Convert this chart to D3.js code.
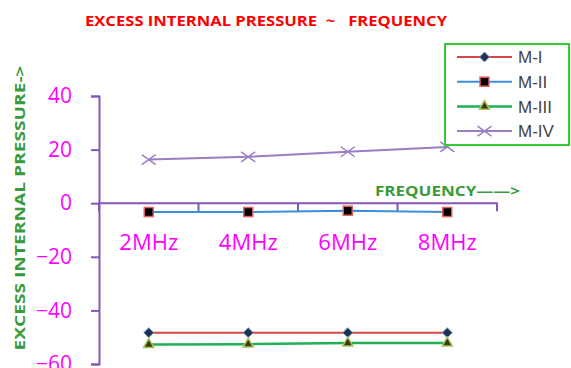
<!DOCTYPE html>
<html>
<head>
<meta charset="utf-8">
<script src="https://cdn.jsdelivr.net/npm/d3@7"></script>
<style>
  html, body { margin: 0; padding: 0; background: #fff; }
  svg { display: block; }
</style>
</head>
<body>
<svg id="chart" width="571" height="368"></svg>
<script>
// Frequencies along the x axis
const categories = ["2MHz", "4MHz", "6MHz", "8MHz"];
// Excess internal pressure for each mixture
const seriesNames = ["M-I", "M-II", "M-III", "M-IV"];
const valuesMI   = [-48.3, -48.3, -48.3, -48.3];
const valuesMII  = [-3.3, -3.3, -2.8, -3.3];
const valuesMIII = [-52.7, -52.6, -52.2, -52.2];
const valuesMIV  = [16.3, 17.3, 19.2, 21.0];
const yTicks = [40, 20, 0, -20, -40, -60];

const svg = d3.select("#chart");

const x = d3.scaleBand().domain(categories).range([99, 497]);
const y = d3.scaleLinear().domain([-60, 40]).range([364, 96]);

const axisColor = "#8855b8";
const tickColor = "#ff00ff";

// Title
svg.append("text")
  .attr("x", 266).attr("y", 26)
  .attr("text-anchor", "middle")
  .attr("font-family", "Open Sans, sans-serif")
  .attr("font-weight", "bold")
  .attr("font-size", 15)
  .attr("fill", "#ff0000")
  .attr("textLength", 362).attr("lengthAdjust", "spacingAndGlyphs")
  .attr("xml:space", "preserve")
  .text("EXCESS INTERNAL PRESSURE  ~   FREQUENCY");

// Y axis
const yAxis = d3.axisLeft(y).tickValues(yTicks).tickSize(8).tickPadding(19);
const gy = svg.append("g").attr("transform", "translate(99,0)").call(yAxis);
gy.select(".domain").attr("stroke", axisColor).attr("stroke-width", 2);
gy.selectAll(".tick line").attr("stroke", axisColor).attr("stroke-width", 2);
gy.selectAll(".tick text")
  .attr("fill", tickColor)
  .attr("font-family", "Open Sans, sans-serif")
  .attr("font-size", 21);

// X axis at zero
const xAxis = d3.axisBottom(x).tickSize(0).tickPadding(30);
const gx = svg.append("g").attr("transform", `translate(0,${y(0)})`).call(xAxis);
gx.select(".domain").attr("stroke", axisColor).attr("stroke-width", 2)
  .attr("d", `M${x.range()[0]},8V0H${x.range()[1]}V8`);
gx.selectAll(".tick text")
  .attr("fill", tickColor)
  .attr("font-family", "Open Sans, sans-serif")
  .attr("font-size", 22)
  .attr("dy", "0.35em")
  .attr("y", 39);
// category boundary ticks
gx.selectAll(".bound")
  .data(categories.slice(1))
  .enter().append("line")
  .attr("x1", d => x(d)).attr("x2", d => x(d))
  .attr("y1", 0).attr("y2", 8)
  .attr("stroke", axisColor).attr("stroke-width", 2);

// Axis titles
svg.append("text")
  .attr("transform", "translate(25,208) rotate(-90)")
  .attr("text-anchor", "middle")
  .attr("font-family", "Open Sans, sans-serif")
  .attr("font-weight", "bold")
  .attr("font-size", 15)
  .attr("fill", "#3a9a3a")
  .attr("textLength", 285).attr("lengthAdjust", "spacingAndGlyphs")
  .text("EXCESS INTERNAL PRESSURE->");

svg.append("text")
  .attr("x", 375).attr("y", 196)
  .attr("font-family", "Open Sans, sans-serif")
  .attr("font-weight", "bold")
  .attr("font-size", 15)
  .attr("fill", "#3a9a3a")
  .attr("textLength", 145).attr("lengthAdjust", "spacingAndGlyphs")
  .text("FREQUENCY——>");

// Series
const cx = d => x(d) + x.bandwidth() / 2;
const series = [
  { name: seriesNames[0], values: valuesMI,   line: "#d94545", width: 2,   marker: "diamond" },
  { name: seriesNames[1], values: valuesMII,  line: "#3a8fd8", width: 2,   marker: "square" },
  { name: seriesNames[2], values: valuesMIII, line: "#1fb154", width: 2.5, marker: "triangle" },
  { name: seriesNames[3], values: valuesMIV,  line: "#9a7ec4", width: 2,   marker: "x" }
];

function drawMarker(g, type, px, py) {
  if (type === "diamond") {
    g.append("path")
      .attr("d", `M${px},${py - 5}L${px + 5},${py}L${px},${py + 5}L${px - 5},${py}Z`)
      .attr("fill", "#1f3150").attr("stroke", "#7f9fc8").attr("stroke-width", 1);
  } else if (type === "square") {
    g.append("rect")
      .attr("x", px - 4.5).attr("y", py - 4.5).attr("width", 9).attr("height", 9)
      .attr("fill", "#000").attr("stroke", "#e06060").attr("stroke-width", 1.5);
  } else if (type === "triangle") {
    g.append("path")
      .attr("d", d3.symbol(d3.symbolTriangle, 45)())
      .attr("transform", `translate(${px},${py})`)
      .attr("fill", "#3a3a10").attr("stroke", "#a8c35a").attr("stroke-width", 1.5);
  } else if (type === "x") {
    g.append("path")
      .attr("d", `M${px - 7},${py - 5}L${px + 7},${py + 5}M${px - 7},${py + 5}L${px + 7},${py - 5}`)
      .attr("stroke", "#9a7ec4").attr("stroke-width", 1.5).attr("fill", "none");
  }
}

const plot = svg.append("g");
series.forEach(s => {
  const line = d3.line().x((v, i) => cx(categories[i])).y(v => y(v));
  plot.append("path").datum(s.values)
    .attr("d", line)
    .attr("fill", "none")
    .attr("stroke", s.line)
    .attr("stroke-width", s.width);
  s.values.forEach((v, i) => drawMarker(plot, s.marker, cx(categories[i]), y(v)));
});

// Legend
const legend = svg.append("g");
legend.append("rect")
  .attr("x", 445).attr("y", 44).attr("width", 124).attr("height", 101)
  .attr("fill", "#fff").attr("stroke", "#33cc33").attr("stroke-width", 2);
series.forEach((s, i) => {
  const ly = 57 + i * 24.7;
  legend.append("line")
    .attr("x1", 457).attr("x2", 512).attr("y1", ly).attr("y2", ly)
    .attr("stroke", s.line).attr("stroke-width", s.width);
  drawMarker(legend, s.marker, 484.5, ly);
  legend.append("text")
    .attr("x", 518).attr("y", ly).attr("dy", "0.36em")
    .attr("font-family", "Liberation Sans, Arial, sans-serif")
    .attr("font-size", 17)
    .attr("fill", "#444")
    .text(s.name);
});
</script>
</body>
</html>
